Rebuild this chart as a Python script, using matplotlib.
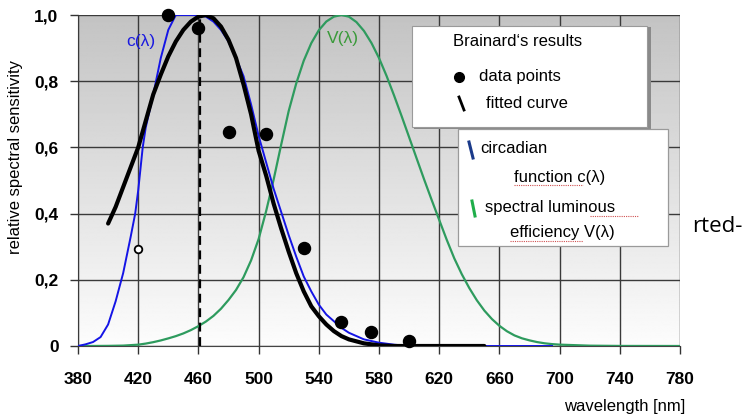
import matplotlib
matplotlib.use("Agg")
import matplotlib.pyplot as plt
import numpy as np
from matplotlib.patches import Rectangle
from matplotlib.lines import Line2D

plt.rcParams["font.family"] = ["Liberation Sans", "DejaVu Sans"]

# data
wl_c = [380, 385, 390, 395, 400, 405, 410, 415, 418, 420, 423, 425, 430, 435, 440,
        445, 450, 455, 460, 465, 470, 475, 480, 485, 490, 495, 500, 505, 510, 515,
        520, 525, 530, 535, 540, 545, 550, 555, 560, 570, 580, 590, 600, 695]
c_lambda = [0.0, 0.005, 0.012, 0.027, 0.065, 0.135, 0.22, 0.33, 0.40, 0.47, 0.60, 0.66,
            0.76, 0.87, 0.955, 1.0, 1.0, 1.0, 1.0, 0.995, 0.98, 0.955, 0.92, 0.87, 0.815,
            0.73, 0.635, 0.555, 0.475, 0.405, 0.335, 0.27, 0.21, 0.165, 0.125, 0.095,
            0.075, 0.055, 0.04, 0.02, 0.01, 0.004, 0.0, 0.0]

wl_fit = [400, 405, 410, 415, 420, 425, 430, 435, 440, 445, 450, 455, 460, 465, 470,
          475, 480, 485, 490, 495, 500, 505, 510, 515, 520, 525, 530, 535, 540, 545,
          550, 555, 560, 570, 580, 590, 650]
fitted = [0.37, 0.42, 0.48, 0.54, 0.60, 0.68, 0.76, 0.82, 0.875, 0.92, 0.955, 0.98,
          0.995, 1.0, 0.99, 0.965, 0.925, 0.87, 0.79, 0.70, 0.59, 0.515, 0.43, 0.355,
          0.285, 0.22, 0.165, 0.12, 0.09, 0.065, 0.045, 0.03, 0.02, 0.008, 0.002, 0.0, 0.0]

wl_v = [380, 390, 400, 410, 420, 425, 430, 435, 440, 445, 450, 455, 460, 465, 470,
        475, 480, 485, 490, 495, 500, 505, 510, 515, 520, 525, 530, 535, 540, 545,
        550, 555, 560, 565, 570, 575, 580, 585, 590, 595, 600, 605, 610, 615, 620,
        625, 630, 635, 640, 645, 650, 655, 660, 665, 670, 675, 680, 685, 690, 695,
        700, 720, 740, 780]
v_lambda = [0.0, 0.0001, 0.0004, 0.0012, 0.004, 0.0073, 0.0116, 0.0168, 0.023, 0.0298,
            0.038, 0.048, 0.06, 0.0739, 0.091, 0.1126, 0.139, 0.1693, 0.208, 0.2586,
            0.323, 0.4073, 0.503, 0.6082, 0.71, 0.7932, 0.862, 0.9149, 0.954, 0.9803,
            0.995, 1.0, 0.995, 0.9786, 0.952, 0.9154, 0.87, 0.8163, 0.757, 0.6949,
            0.631, 0.5668, 0.503, 0.4412, 0.381, 0.321, 0.265, 0.217, 0.175, 0.1382,
            0.107, 0.0816, 0.061, 0.0446, 0.032, 0.0232, 0.017, 0.0119, 0.0082, 0.0057,
            0.0041, 0.001, 0.0002, 0.0]

pts_wl = [440, 460, 480, 505, 530, 555, 575, 600]
pts_val = [1.0, 0.96, 0.647, 0.64, 0.296, 0.072, 0.042, 0.015]
open_wl = [420]
open_val = [0.293]
peak_wl = 461

xticks = [380, 420, 460, 500, 540, 580, 620, 660, 700, 740, 780]
yticks = [0, 0.2, 0.4, 0.6, 0.8, 1.0]
ylabels = ["0", "0,2", "0,4", "0,6", "0,8", "1,0"]

W, H = 750, 418
fig = plt.figure(figsize=(7.5, 4.18), dpi=100)
ax = fig.add_axes([78 / W, 1 - 346 / H, 602 / W, 331 / H])


def fx(x):
    return x / W


def fy(y):
    return 1 - y / H


# grey gradient background, light at the bottom
grad = np.linspace(0.99, 0.765, 256)
img = np.repeat(grad[:, None], 2, axis=1)
ax.imshow(img, cmap="gray", vmin=0, vmax=1, extent=[380, 780, 0, 1], origin="lower",
          aspect="auto", zorder=0)

ax.set_xlim(380, 780)
ax.set_ylim(0, 1.0)
ax.set_xticks(xticks)
ax.set_yticks(yticks)
ax.set_yticklabels(ylabels)
ax.grid(True, color="#3a3a3a", lw=1.0, zorder=1)
ax.set_axisbelow(False)
for s in ["top", "right"]:
    ax.spines[s].set_visible(False)
ax.spines["left"].set_color("#222222")
ax.spines["bottom"].set_color("#444444")
ax.tick_params(axis="x", length=6, width=1, color="#333333", pad=13, labelsize=12.5)
ax.tick_params(axis="y", length=6, width=1, color="#333333", pad=8, labelsize=12.5)
for lab in ax.get_xticklabels() + ax.get_yticklabels():
    lab.set_fontweight("bold")

ax.plot(wl_v, v_lambda, color="#2e9b5e", lw=1.6, zorder=3)
ax.plot(wl_c, c_lambda, color="#1414e6", lw=1.4, zorder=4)
ax.plot(wl_fit, fitted, color="black", lw=3, zorder=5, solid_capstyle="round")
ax.plot([peak_wl, peak_wl], [0, 1.0], color="black", lw=1.6, ls=(0, (4, 2.5)), zorder=5)
ax.scatter(pts_wl, pts_val, s=75, color="black", zorder=6, clip_on=False)
ax.scatter(open_wl, open_val, s=30, facecolor="white", edgecolor="black", lw=1.3,
           zorder=6)

ax.text(422, 0.92, "c(λ)", color="#1a1ae0", fontsize=12.5, ha="center", va="center",
        zorder=7)
ax.text(556, 0.93, "V(λ)", color="#3a9a3a", fontsize=12.5, ha="center", va="center",
        zorder=7)

fig.text(fx(16), fy(157), "relative spectral sensitivity", rotation=90, fontsize=12,
         ha="center", va="center")
fig.text(fx(685), fy(407), "wavelength [nm]", fontsize=12, ha="right", va="center")

# legend box 1
fig.add_artist(Rectangle((fx(414), fy(129)), (649 - 412) / W, (129 - 27) / H,
                         transform=fig.transFigure, facecolor="#8a8a8a",
                         edgecolor="none", zorder=8))
fig.add_artist(Rectangle((fx(412), fy(127)), (647 - 412) / W, (127 - 26) / H,
                         transform=fig.transFigure, facecolor="white",
                         edgecolor="#9a9a9a", lw=0.8, zorder=9))
fig.text(fx(453), fy(42), "Brainard\u2018s results", fontsize=12, va="center", zorder=10)
fig.add_artist(Line2D([fx(459)], [fy(77)], marker="o", ms=7, color="black", ls="none",
                      transform=fig.transFigure, zorder=10))
fig.text(fx(479), fy(76), "data points", fontsize=12, va="center", zorder=10)
fig.add_artist(Line2D([fx(459), fx(464)], [fy(97), fy(110)], color="black", lw=2,
                      transform=fig.transFigure, zorder=10))
fig.text(fx(486), fy(103), "fitted curve", fontsize=12, va="center", zorder=10)

# legend box 2
fig.add_artist(Rectangle((fx(458), fy(246)), (668 - 458) / W, (246 - 129) / H,
                         transform=fig.transFigure, facecolor="white",
                         edgecolor="#9a9a9a", lw=0.9, zorder=9))
fig.add_artist(Line2D([fx(469), fx(473)], [fy(142), fy(158)], color="#1a3a8a", lw=2.2,
                      transform=fig.transFigure, zorder=10))
fig.text(fx(480), fy(149), "circadian", fontsize=12, va="center", zorder=10)
fig.text(fx(514), fy(177), "function c(λ)", fontsize=12, va="center", zorder=10)
fig.add_artist(Line2D([fx(472), fx(475)], [fy(201), fy(216)], color="#1fae4a", lw=2.2,
                      transform=fig.transFigure, zorder=10))
fig.text(fx(485), fy(208), "spectral luminous", fontsize=12, va="center", zorder=10)
fig.text(fx(510), fy(233), "efficiency V(λ)", fontsize=12, va="center", zorder=10)
for x0, x1, y0 in [(514, 583, 185), (590, 638, 216), (510, 583, 241)]:
    fig.add_artist(Line2D([fx(x0), fx(x1)], [fy(y0), fy(y0)], color="#d05050", lw=0.8,
                          ls=(0, (1, 1)), transform=fig.transFigure, zorder=10))

fig.text(fx(692), fy(227), "rted-", fontsize=16, family=["Open Sans", "DejaVu Sans"],
         va="center", ha="left")

fig.savefig("out.png", dpi=100)
